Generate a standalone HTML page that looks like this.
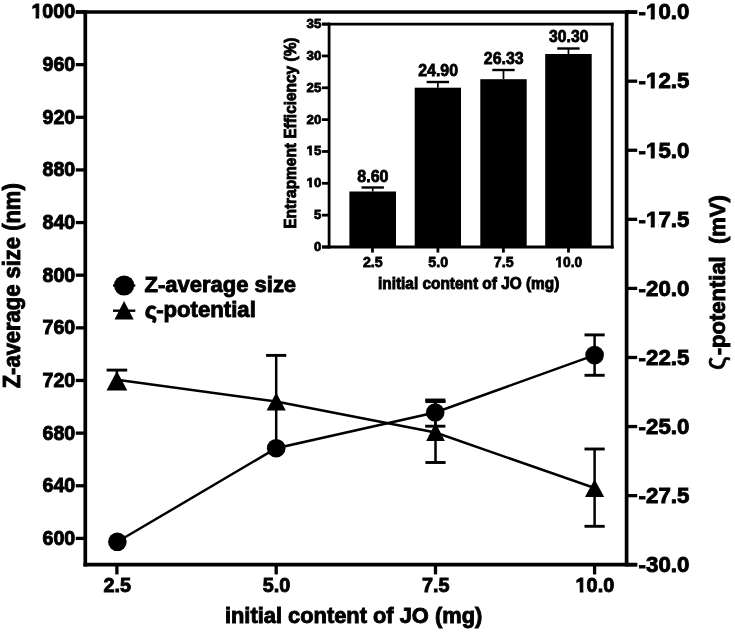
<!DOCTYPE html>
<html><head><meta charset="utf-8"><title>chart</title>
<style>
html,body{margin:0;padding:0;background:#fff;width:735px;height:632px;overflow:hidden;}
svg{display:block;position:absolute;left:0;top:0;}
text{font-family:"Liberation Sans", sans-serif;fill:#000;}
</style></head>
<body>
<svg width="735" height="632" viewBox="0 0 735 632">
<defs><filter id="soft" x="0" y="0" width="735" height="632" filterUnits="userSpaceOnUse" color-interpolation-filters="sRGB"><feGaussianBlur stdDeviation="0.5"/></filter></defs>
<rect x="0" y="0" width="735" height="632" fill="#fff"/>
<g filter="url(#soft)">
<rect x="0" y="0" width="735" height="632" fill="#fff"/>
<line x1="75.8" y1="12.0" x2="637.2" y2="12.0" stroke="#000" stroke-width="3.7" stroke-linecap="butt"/>
<line x1="85.3" y1="10.15" x2="85.3" y2="566.5500000000001" stroke="#000" stroke-width="3.7" stroke-linecap="butt"/>
<line x1="626.6" y1="10.15" x2="626.6" y2="566.5500000000001" stroke="#000" stroke-width="3.7" stroke-linecap="butt"/>
<line x1="83.45" y1="564.7" x2="637.2" y2="564.7" stroke="#000" stroke-width="3.7" stroke-linecap="butt"/>
<line x1="75.8" y1="12.0" x2="85.3" y2="12.0" stroke="#000" stroke-width="3.3" stroke-linecap="butt"/>
<text x="75.3" y="18" font-size="19.8" font-weight="bold" text-anchor="end" stroke="#000" stroke-width="0.9" textLength="43.9" lengthAdjust="spacingAndGlyphs">1000</text>
<rect x="31.39" y="15.08" width="4.17" height="4.17" fill="#fff"/><rect x="39.17" y="15.08" width="3.37" height="4.17" fill="#fff"/>
<line x1="75.8" y1="64.64" x2="85.3" y2="64.64" stroke="#000" stroke-width="3.3" stroke-linecap="butt"/>
<text x="75.3" y="71" font-size="19.8" font-weight="bold" text-anchor="end" stroke="#000" stroke-width="0.9" textLength="32.8" lengthAdjust="spacingAndGlyphs">960</text>
<line x1="75.8" y1="117.28" x2="85.3" y2="117.28" stroke="#000" stroke-width="3.3" stroke-linecap="butt"/>
<text x="75.3" y="124" font-size="19.8" font-weight="bold" text-anchor="end" stroke="#000" stroke-width="0.9" textLength="32.8" lengthAdjust="spacingAndGlyphs">920</text>
<line x1="75.8" y1="169.92" x2="85.3" y2="169.92" stroke="#000" stroke-width="3.3" stroke-linecap="butt"/>
<text x="75.3" y="176" font-size="19.8" font-weight="bold" text-anchor="end" stroke="#000" stroke-width="0.9" textLength="32.8" lengthAdjust="spacingAndGlyphs">880</text>
<line x1="75.8" y1="222.56" x2="85.3" y2="222.56" stroke="#000" stroke-width="3.3" stroke-linecap="butt"/>
<text x="75.3" y="229" font-size="19.8" font-weight="bold" text-anchor="end" stroke="#000" stroke-width="0.9" textLength="32.8" lengthAdjust="spacingAndGlyphs">840</text>
<line x1="75.8" y1="275.2" x2="85.3" y2="275.2" stroke="#000" stroke-width="3.3" stroke-linecap="butt"/>
<text x="75.3" y="282" font-size="19.8" font-weight="bold" text-anchor="end" stroke="#000" stroke-width="0.9" textLength="32.8" lengthAdjust="spacingAndGlyphs">800</text>
<line x1="75.8" y1="327.84" x2="85.3" y2="327.84" stroke="#000" stroke-width="3.3" stroke-linecap="butt"/>
<text x="75.3" y="334" font-size="19.8" font-weight="bold" text-anchor="end" stroke="#000" stroke-width="0.9" textLength="32.8" lengthAdjust="spacingAndGlyphs">760</text>
<line x1="75.8" y1="380.47999999999996" x2="85.3" y2="380.47999999999996" stroke="#000" stroke-width="3.3" stroke-linecap="butt"/>
<text x="75.3" y="387" font-size="19.8" font-weight="bold" text-anchor="end" stroke="#000" stroke-width="0.9" textLength="32.8" lengthAdjust="spacingAndGlyphs">720</text>
<line x1="75.8" y1="433.12" x2="85.3" y2="433.12" stroke="#000" stroke-width="3.3" stroke-linecap="butt"/>
<text x="75.3" y="440" font-size="19.8" font-weight="bold" text-anchor="end" stroke="#000" stroke-width="0.9" textLength="32.8" lengthAdjust="spacingAndGlyphs">680</text>
<line x1="75.8" y1="485.75999999999993" x2="85.3" y2="485.75999999999993" stroke="#000" stroke-width="3.3" stroke-linecap="butt"/>
<text x="75.3" y="492" font-size="19.8" font-weight="bold" text-anchor="end" stroke="#000" stroke-width="0.9" textLength="32.8" lengthAdjust="spacingAndGlyphs">640</text>
<line x1="75.8" y1="538.4" x2="85.3" y2="538.4" stroke="#000" stroke-width="3.3" stroke-linecap="butt"/>
<text x="75.3" y="545" font-size="19.8" font-weight="bold" text-anchor="end" stroke="#000" stroke-width="0.9" textLength="32.8" lengthAdjust="spacingAndGlyphs">600</text>
<line x1="626.6" y1="12.1" x2="637.2" y2="12.1" stroke="#000" stroke-width="3.3" stroke-linecap="butt"/>
<text x="638.6" y="19" font-size="22.1" font-weight="bold" text-anchor="start" stroke="#000" stroke-width="0.9" textLength="50.8" lengthAdjust="spacingAndGlyphs">-10.0</text>
<rect x="646.16" y="15.84" width="4.61" height="4.41" fill="#fff"/><rect x="654.73" y="15.84" width="3.77" height="4.41" fill="#fff"/>
<line x1="626.6" y1="81.175" x2="637.2" y2="81.175" stroke="#000" stroke-width="3.3" stroke-linecap="butt"/>
<text x="638.6" y="88" font-size="22.1" font-weight="bold" text-anchor="start" stroke="#000" stroke-width="0.9" textLength="50.8" lengthAdjust="spacingAndGlyphs">-12.5</text>
<rect x="646.16" y="84.84" width="4.61" height="4.41" fill="#fff"/><rect x="654.73" y="84.84" width="3.77" height="4.41" fill="#fff"/>
<line x1="626.6" y1="150.25" x2="637.2" y2="150.25" stroke="#000" stroke-width="3.3" stroke-linecap="butt"/>
<text x="638.6" y="158" font-size="22.1" font-weight="bold" text-anchor="start" stroke="#000" stroke-width="0.9" textLength="50.8" lengthAdjust="spacingAndGlyphs">-15.0</text>
<rect x="646.16" y="154.84" width="4.61" height="4.41" fill="#fff"/><rect x="654.73" y="154.84" width="3.77" height="4.41" fill="#fff"/>
<line x1="626.6" y1="219.32500000000002" x2="637.2" y2="219.32500000000002" stroke="#000" stroke-width="3.3" stroke-linecap="butt"/>
<text x="638.6" y="227" font-size="22.1" font-weight="bold" text-anchor="start" stroke="#000" stroke-width="0.9" textLength="50.8" lengthAdjust="spacingAndGlyphs">-17.5</text>
<rect x="646.16" y="223.84" width="4.61" height="4.41" fill="#fff"/><rect x="654.73" y="223.84" width="3.77" height="4.41" fill="#fff"/>
<line x1="626.6" y1="288.40000000000003" x2="637.2" y2="288.40000000000003" stroke="#000" stroke-width="3.3" stroke-linecap="butt"/>
<text x="638.6" y="296" font-size="22.1" font-weight="bold" text-anchor="start" stroke="#000" stroke-width="0.9" textLength="50.8" lengthAdjust="spacingAndGlyphs">-20.0</text>
<line x1="626.6" y1="357.475" x2="637.2" y2="357.475" stroke="#000" stroke-width="3.3" stroke-linecap="butt"/>
<text x="638.6" y="365" font-size="22.1" font-weight="bold" text-anchor="start" stroke="#000" stroke-width="0.9" textLength="50.8" lengthAdjust="spacingAndGlyphs">-22.5</text>
<line x1="626.6" y1="426.55000000000007" x2="637.2" y2="426.55000000000007" stroke="#000" stroke-width="3.3" stroke-linecap="butt"/>
<text x="638.6" y="434" font-size="22.1" font-weight="bold" text-anchor="start" stroke="#000" stroke-width="0.9" textLength="50.8" lengthAdjust="spacingAndGlyphs">-25.0</text>
<line x1="626.6" y1="495.62500000000006" x2="637.2" y2="495.62500000000006" stroke="#000" stroke-width="3.3" stroke-linecap="butt"/>
<text x="638.6" y="503" font-size="22.1" font-weight="bold" text-anchor="start" stroke="#000" stroke-width="0.9" textLength="50.8" lengthAdjust="spacingAndGlyphs">-27.5</text>
<line x1="626.6" y1="564.7" x2="637.2" y2="564.7" stroke="#000" stroke-width="3.3" stroke-linecap="butt"/>
<text x="638.6" y="572" font-size="22.1" font-weight="bold" text-anchor="start" stroke="#000" stroke-width="0.9" textLength="50.8" lengthAdjust="spacingAndGlyphs">-30.0</text>
<line x1="116.9" y1="564.7" x2="116.9" y2="574.4" stroke="#000" stroke-width="3.3" stroke-linecap="butt"/>
<text x="117.2" y="591.5" font-size="20.3" font-weight="bold" text-anchor="middle" stroke="#000" stroke-width="0.9" textLength="27.6" lengthAdjust="spacingAndGlyphs">2.5</text>
<line x1="276.2" y1="564.7" x2="276.2" y2="574.4" stroke="#000" stroke-width="3.3" stroke-linecap="butt"/>
<text x="276.5" y="591.5" font-size="20.3" font-weight="bold" text-anchor="middle" stroke="#000" stroke-width="0.9" textLength="27.6" lengthAdjust="spacingAndGlyphs">5.0</text>
<line x1="435.5" y1="564.7" x2="435.5" y2="574.4" stroke="#000" stroke-width="3.3" stroke-linecap="butt"/>
<text x="435.8" y="591.5" font-size="20.3" font-weight="bold" text-anchor="middle" stroke="#000" stroke-width="0.9" textLength="27.6" lengthAdjust="spacingAndGlyphs">7.5</text>
<line x1="594.6" y1="564.7" x2="594.6" y2="574.4" stroke="#000" stroke-width="3.3" stroke-linecap="butt"/>
<text x="594.9" y="591.5" font-size="20.3" font-weight="bold" text-anchor="middle" stroke="#000" stroke-width="0.9" textLength="38.6" lengthAdjust="spacingAndGlyphs">10.0</text>
<rect x="575.60" y="589.03" width="4.18" height="4.22" fill="#fff"/><rect x="583.40" y="589.03" width="3.38" height="4.22" fill="#fff"/>
<text x="224.9" y="622.6" font-size="22" font-weight="bold" text-anchor="start" stroke="#000" stroke-width="0.9" textLength="257.4" lengthAdjust="spacingAndGlyphs">initial content of JO (mg)</text>
<text transform="translate(20.0,388.3) rotate(-90)" font-size="23.2" font-weight="bold" stroke="#000" stroke-width="0.9" textLength="205.0" lengthAdjust="spacingAndGlyphs">Z-average size (nm)</text>
<text transform="translate(725.3,370.0) rotate(-90)" font-size="30" font-weight="normal" stroke="#000" stroke-width="0.7" textLength="13.6" lengthAdjust="spacingAndGlyphs">ς</text>
<text transform="translate(725.4,355.2) rotate(-90)" font-size="22" font-weight="bold" stroke="#000" stroke-width="0.9" textLength="160.0" lengthAdjust="spacingAndGlyphs" xml:space="preserve">-potential  (mV)</text>
<polyline fill="none" stroke="#000" stroke-width="2.45" points="117.4,541.8 276.2,448.2 435.2,412.5 594.6,355.1"/>
<polyline fill="none" stroke="#000" stroke-width="2.45" points="116.9,379.7 276.2,401.5 435.5,432.5 594.6,488.0"/>
<line x1="116.9" y1="370.1" x2="116.9" y2="379.3" stroke="#000" stroke-width="2.5" stroke-linecap="butt"/>
<line x1="106.60000000000001" y1="370.1" x2="127.2" y2="370.1" stroke="#000" stroke-width="2.9" stroke-linecap="butt"/>
<line x1="276.2" y1="355.4" x2="276.2" y2="448.0" stroke="#000" stroke-width="2.5" stroke-linecap="butt"/>
<line x1="266.09999999999997" y1="355.4" x2="286.3" y2="355.4" stroke="#000" stroke-width="2.9" stroke-linecap="butt"/>
<line x1="435.5" y1="401.6" x2="435.5" y2="462.5" stroke="#000" stroke-width="2.5" stroke-linecap="butt"/>
<line x1="425.4" y1="401.6" x2="445.6" y2="401.6" stroke="#000" stroke-width="2.9" stroke-linecap="butt"/>
<line x1="425.4" y1="462.5" x2="445.6" y2="462.5" stroke="#000" stroke-width="2.9" stroke-linecap="butt"/>
<line x1="594.6" y1="449.0" x2="594.6" y2="526.3" stroke="#000" stroke-width="2.5" stroke-linecap="butt"/>
<line x1="584.5" y1="449.0" x2="604.7" y2="449.0" stroke="#000" stroke-width="2.9" stroke-linecap="butt"/>
<line x1="584.5" y1="526.3" x2="604.7" y2="526.3" stroke="#000" stroke-width="2.9" stroke-linecap="butt"/>
<line x1="435.3" y1="400.0" x2="435.3" y2="426.2" stroke="#000" stroke-width="2.5" stroke-linecap="butt"/>
<line x1="425.2" y1="400.0" x2="445.40000000000003" y2="400.0" stroke="#000" stroke-width="2.9" stroke-linecap="butt"/>
<line x1="425.2" y1="426.2" x2="445.40000000000003" y2="426.2" stroke="#000" stroke-width="2.9" stroke-linecap="butt"/>
<line x1="594.6" y1="334.9" x2="594.6" y2="375.3" stroke="#000" stroke-width="2.5" stroke-linecap="butt"/>
<line x1="584.5" y1="334.9" x2="604.7" y2="334.9" stroke="#000" stroke-width="2.9" stroke-linecap="butt"/>
<line x1="584.5" y1="375.3" x2="604.7" y2="375.3" stroke="#000" stroke-width="2.9" stroke-linecap="butt"/>
<circle cx="117.4" cy="541.8" r="9.3" fill="#000"/>
<circle cx="276.2" cy="448.2" r="9.3" fill="#000"/>
<circle cx="435.2" cy="412.5" r="9.3" fill="#000"/>
<circle cx="594.6" cy="355.1" r="9.3" fill="#000"/>
<polygon points="116.9,371.0 106.5,390.6 127.30000000000001,390.6" fill="#000"/>
<polygon points="276.2,392.5 266.59999999999997,410.5 285.8,410.5" fill="#000"/>
<polygon points="435.5,422.5 426.2,441.0 444.8,441.0" fill="#000"/>
<polygon points="594.6,479.2 585.0,497.0 604.2,497.0" fill="#000"/>
<line x1="113" y1="285.5" x2="135.3" y2="285.5" stroke="#000" stroke-width="2.4" stroke-linecap="butt"/>
<circle cx="124.1" cy="285.5" r="10.1" fill="#000"/>
<line x1="113" y1="310.7" x2="135.3" y2="310.7" stroke="#000" stroke-width="2.4" stroke-linecap="butt"/>
<polygon points="124.1,301.0 114.5,319.4 133.7,319.4" fill="#000"/>
<text x="144.6" y="292.2" font-size="22" font-weight="bold" text-anchor="start" stroke="#000" stroke-width="0.9" textLength="151.5" lengthAdjust="spacingAndGlyphs">Z-average size</text>
<text x="144.9" y="317.8" font-size="22.5" font-weight="bold" text-anchor="start" stroke="#000" stroke-width="1.3" textLength="11.8" lengthAdjust="spacingAndGlyphs">ς</text>
<text x="156.2" y="317.2" font-size="22" font-weight="bold" text-anchor="start" stroke="#000" stroke-width="0.9" textLength="99.6" lengthAdjust="spacingAndGlyphs">-potential</text>
<line x1="322" y1="24.1" x2="613.6" y2="24.1" stroke="#000" stroke-width="2.8" stroke-linecap="butt"/>
<line x1="329.1" y1="22.700000000000003" x2="329.1" y2="248.4" stroke="#000" stroke-width="2.8" stroke-linecap="butt"/>
<line x1="612.2" y1="22.700000000000003" x2="612.2" y2="248.4" stroke="#000" stroke-width="2.8" stroke-linecap="butt"/>
<line x1="322" y1="247.0" x2="613.6" y2="247.0" stroke="#000" stroke-width="2.8" stroke-linecap="butt"/>
<line x1="322" y1="24.1" x2="329.1" y2="24.1" stroke="#000" stroke-width="2.8" stroke-linecap="butt"/>
<text x="321.4" y="28" font-size="13.4" font-weight="bold" text-anchor="end" stroke="#000" stroke-width="0.8" textLength="14.8" lengthAdjust="spacingAndGlyphs">35</text>
<line x1="322" y1="55.94285714285715" x2="329.1" y2="55.94285714285715" stroke="#000" stroke-width="2.8" stroke-linecap="butt"/>
<text x="321.4" y="60" font-size="13.4" font-weight="bold" text-anchor="end" stroke="#000" stroke-width="0.8" textLength="14.8" lengthAdjust="spacingAndGlyphs">30</text>
<line x1="322" y1="87.78571428571429" x2="329.1" y2="87.78571428571429" stroke="#000" stroke-width="2.8" stroke-linecap="butt"/>
<text x="321.4" y="92" font-size="13.4" font-weight="bold" text-anchor="end" stroke="#000" stroke-width="0.8" textLength="14.8" lengthAdjust="spacingAndGlyphs">25</text>
<line x1="322" y1="119.62857142857143" x2="329.1" y2="119.62857142857143" stroke="#000" stroke-width="2.8" stroke-linecap="butt"/>
<text x="321.4" y="124" font-size="13.4" font-weight="bold" text-anchor="end" stroke="#000" stroke-width="0.8" textLength="14.8" lengthAdjust="spacingAndGlyphs">20</text>
<line x1="322" y1="151.4714285714286" x2="329.1" y2="151.4714285714286" stroke="#000" stroke-width="2.8" stroke-linecap="butt"/>
<text x="321.4" y="155" font-size="13.4" font-weight="bold" text-anchor="end" stroke="#000" stroke-width="0.8" textLength="14.8" lengthAdjust="spacingAndGlyphs">15</text>
<rect x="306.24" y="152.78" width="3.07" height="3.42" fill="#fff"/><rect x="311.93" y="152.78" width="2.35" height="3.42" fill="#fff"/>
<line x1="322" y1="183.31428571428572" x2="329.1" y2="183.31428571428572" stroke="#000" stroke-width="2.8" stroke-linecap="butt"/>
<text x="321.4" y="187" font-size="13.4" font-weight="bold" text-anchor="end" stroke="#000" stroke-width="0.8" textLength="14.8" lengthAdjust="spacingAndGlyphs">10</text>
<rect x="306.24" y="184.78" width="3.07" height="3.42" fill="#fff"/><rect x="311.93" y="184.78" width="2.35" height="3.42" fill="#fff"/>
<line x1="322" y1="215.15714285714287" x2="329.1" y2="215.15714285714287" stroke="#000" stroke-width="2.8" stroke-linecap="butt"/>
<text x="321.4" y="219" font-size="13.4" font-weight="bold" text-anchor="end" stroke="#000" stroke-width="0.8" textLength="7.3" lengthAdjust="spacingAndGlyphs">5</text>
<line x1="322" y1="247.0" x2="329.1" y2="247.0" stroke="#000" stroke-width="2.8" stroke-linecap="butt"/>
<text x="321.4" y="251" font-size="13.4" font-weight="bold" text-anchor="end" stroke="#000" stroke-width="0.8" textLength="7.3" lengthAdjust="spacingAndGlyphs">0</text>
<rect x="349.4" y="191.5" width="46.6" height="55.5" fill="#000"/>
<line x1="372.7" y1="187.5" x2="372.7" y2="191.5" stroke="#000" stroke-width="1.7" stroke-linecap="butt"/>
<line x1="361.5" y1="187.5" x2="383.9" y2="187.5" stroke="#000" stroke-width="2.4" stroke-linecap="butt"/>
<text x="372.9" y="182.0" font-size="17.0" font-weight="bold" text-anchor="middle" stroke="#000" stroke-width="0.8" textLength="31.2" lengthAdjust="spacingAndGlyphs">8.60</text>
<rect x="414.7" y="87.7" width="46.3" height="159.3" fill="#000"/>
<line x1="437.85" y1="82.0" x2="437.85" y2="87.7" stroke="#000" stroke-width="1.7" stroke-linecap="butt"/>
<line x1="426.65000000000003" y1="82.0" x2="449.05" y2="82.0" stroke="#000" stroke-width="2.4" stroke-linecap="butt"/>
<text x="438.1" y="75.9" font-size="17.0" font-weight="bold" text-anchor="middle" stroke="#000" stroke-width="0.8" textLength="39.8" lengthAdjust="spacingAndGlyphs">24.90</text>
<rect x="480.3" y="79.2" width="46.4" height="167.8" fill="#000"/>
<line x1="503.5" y1="70.0" x2="503.5" y2="79.2" stroke="#000" stroke-width="1.7" stroke-linecap="butt"/>
<line x1="492.3" y1="70.0" x2="514.7" y2="70.0" stroke="#000" stroke-width="2.4" stroke-linecap="butt"/>
<text x="503.7" y="64.0" font-size="17.0" font-weight="bold" text-anchor="middle" stroke="#000" stroke-width="0.8" textLength="39.8" lengthAdjust="spacingAndGlyphs">26.33</text>
<rect x="545.2" y="54.0" width="46.5" height="193.0" fill="#000"/>
<line x1="568.45" y1="48.5" x2="568.45" y2="54.0" stroke="#000" stroke-width="1.7" stroke-linecap="butt"/>
<line x1="557.25" y1="48.5" x2="579.6500000000001" y2="48.5" stroke="#000" stroke-width="2.4" stroke-linecap="butt"/>
<text x="568.7" y="41.7" font-size="17.0" font-weight="bold" text-anchor="middle" stroke="#000" stroke-width="0.8" textLength="39.4" lengthAdjust="spacingAndGlyphs">30.30</text>
<line x1="372.5" y1="247.0" x2="372.5" y2="252.6" stroke="#000" stroke-width="2.8" stroke-linecap="butt"/>
<text x="372.8" y="266.6" font-size="15.0" font-weight="bold" text-anchor="middle" stroke="#000" stroke-width="0.8" textLength="19.8" lengthAdjust="spacingAndGlyphs">2.5</text>
<line x1="437.9" y1="247.0" x2="437.9" y2="252.6" stroke="#000" stroke-width="2.8" stroke-linecap="butt"/>
<text x="438.2" y="266.6" font-size="15.0" font-weight="bold" text-anchor="middle" stroke="#000" stroke-width="0.8" textLength="19.8" lengthAdjust="spacingAndGlyphs">5.0</text>
<line x1="503.4" y1="247.0" x2="503.4" y2="252.6" stroke="#000" stroke-width="2.8" stroke-linecap="butt"/>
<text x="503.7" y="266.6" font-size="15.0" font-weight="bold" text-anchor="middle" stroke="#000" stroke-width="0.8" textLength="19.8" lengthAdjust="spacingAndGlyphs">7.5</text>
<line x1="568.5" y1="247.0" x2="568.5" y2="252.6" stroke="#000" stroke-width="2.8" stroke-linecap="butt"/>
<text x="568.8" y="266.6" font-size="15.0" font-weight="bold" text-anchor="middle" stroke="#000" stroke-width="0.8" textLength="26.8" lengthAdjust="spacingAndGlyphs">10.0</text>
<rect x="555.07" y="264.62" width="3.15" height="3.58" fill="#fff"/><rect x="560.90" y="264.62" width="2.42" height="3.58" fill="#fff"/>
<text x="378.0" y="288.5" font-size="16.2" font-weight="bold" text-anchor="start" stroke="#000" stroke-width="0.9" textLength="181.3" lengthAdjust="spacingAndGlyphs">initial content of JO (mg)</text>
<text transform="translate(296.0,228.8) rotate(-90)" font-size="17" font-weight="bold" stroke="#000" stroke-width="0.9" textLength="191.3" lengthAdjust="spacingAndGlyphs">Entrapment Efficiency (%)</text>
</g>
</svg>
</body></html>
